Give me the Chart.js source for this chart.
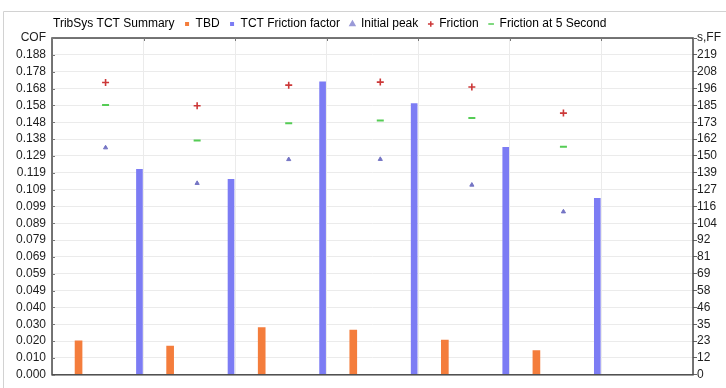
<!DOCTYPE html>
<html>
<head>
<meta charset="utf-8">
<script src="https://cdn.jsdelivr.net/npm/chart.js@4"></script>
<style>
  html, body { margin: 0; padding: 0; background: #fff; }
</style>
</head>
<body>
<canvas id="chart" width="726" height="388"></canvas>
<script>
// six test runs, one column each (a 7th column is left empty)
const runs = ['1', '2', '3', '4', '5', '6'];
const tbd = [0.0200, 0.0168, 0.0277, 0.0262, 0.0204, 0.0142];
const frictionFactor = [141, 134, 201, 186, 156, 121];
const initialPeak = [0.1334, 0.1125, 0.1265, 0.1266, 0.1115, 0.0958];
const friction = [0.1717, 0.1580, 0.1701, 0.1719, 0.1690, 0.1537];
const friction5s = [0.1584, 0.1376, 0.1477, 0.1493, 0.1508, 0.1340];

const cofTicks = ['0.000', '0.010', '0.020', '0.030', '0.040', '0.049', '0.059', '0.069', '0.079', '0.089',
  '0.099', '0.109', '0.119', '0.129', '0.138', '0.148', '0.158', '0.168', '0.178', '0.188', 'COF'];
const ffTicks = ['0', '12', '23', '35', '46', '58', '69', '81', '92', '104',
  '116', '127', '139', '150', '162', '173', '185', '196', '208', '219', 's,FF'];
const cofMax = 0.1978;
const ffMax = 231;
const columns = 7;

// where each series sits inside its column
const posTBD = 0.29;
const posMarks = 0.585;
const posFF = 0.955;

const at = (arr, pos) => arr.map((v, i) => ({ x: i + pos, y: v }));

Chart.defaults.font.family = '"Liberation Sans", Arial, sans-serif';
Chart.defaults.font.size = 12;
Chart.defaults.color = '#1e1e1e';

const framePlugin = {
  id: 'frame',
  afterLayout(chart) {
    // legend line starts right above the plot, not at the canvas edge
    chart.legend.left += 32;
    chart.legend.top += 2;
  },
  beforeDraw(chart) {
    const c = chart.ctx;
    c.save();
    c.strokeStyle = '#d2d2d2';
    c.lineWidth = 1;
    c.beginPath();
    c.moveTo(3.5, chart.height);
    c.lineTo(3.5, 11.5);
    c.lineTo(chart.width, 11.5);
    c.stroke();
    c.restore();
  },
  afterDraw(chart) {
    const { left, top, right, bottom } = chart.chartArea;
    const c = chart.ctx;
    c.save();
    c.strokeStyle = '#4a4a4a';
    c.lineWidth = 1.5;
    c.strokeRect(left, top, right - left, bottom - top);
    // small inner ticks on the COF axis and along the top edge
    c.lineWidth = 1;
    c.strokeStyle = '#777';
    c.beginPath();
    const y = chart.scales.y;
    y.ticks.forEach((t, i) => {
      const py = Math.round(y.getPixelForTick(i)) + 0.5;
      c.moveTo(left, py);
      c.lineTo(left + 3, py);
    });
    const x = chart.scales.x;
    x.ticks.forEach((t, i) => {
      const px = Math.round(x.getPixelForTick(i)) + 0.5;
      c.moveTo(px, top);
      c.lineTo(px, top + 3);
    });
    c.stroke();
    c.restore();
  }
};

const ctx = document.getElementById('chart').getContext('2d');
new Chart(ctx, {
  type: 'bar',
  data: {
    datasets: [
      {
        type: 'bar', label: 'TBD', data: at(tbd, posTBD), yAxisID: 'y',
        backgroundColor: '#f47d3c', barThickness: 7, grouped: false, order: 5,
        legendColor: '#f47d3c', legendStyle: 'rect'
      },
      {
        type: 'bar', label: 'TCT Friction factor', data: at(frictionFactor, posFF), yAxisID: 'y1',
        backgroundColor: '#7c7cf4', barThickness: 6, grouped: false, order: 4,
        legendColor: '#7c7cf4', legendStyle: 'rect'
      },
      {
        type: 'line', label: 'Initial peak', data: at(initialPeak, posMarks), yAxisID: 'y',
        showLine: false, pointStyle: 'triangle', pointRadius: 2.4, pointBorderWidth: 1,
        pointBackgroundColor: '#7474c4', pointBorderColor: '#7474c4', order: 3,
        legendColor: '#9a9ad8', legendStyle: 'triangle'
      },
      {
        type: 'line', label: 'Friction', data: at(friction, posMarks), yAxisID: 'y',
        showLine: false, pointStyle: 'cross', pointRadius: 3.5, pointBorderWidth: 1.6,
        pointBackgroundColor: '#cc3838', pointBorderColor: '#cc3838', order: 2,
        legendColor: '#cc3838', legendStyle: 'cross'
      },
      {
        type: 'line', label: 'Friction at 5 Second', data: at(friction5s, posMarks), yAxisID: 'y',
        showLine: false, pointStyle: 'line', pointRadius: 3.5, pointBorderWidth: 2,
        pointBackgroundColor: '#55cc55', pointBorderColor: '#55cc55', order: 1,
        legendColor: '#55cc55', legendStyle: 'line'
      }
    ]
  },
  options: {
    responsive: false,
    animation: false,
    layout: { padding: { left: 0, top: 6, bottom: 9, right: 0 } },
    plugins: {
      tooltip: { enabled: false },
      legend: {
        position: 'top',
        align: 'start',
        labels: {
          usePointStyle: true,
          boxWidth: 5,
          boxHeight: 4,
          padding: 10,
          color: '#1e1e1e',
          generateLabels: chart => [
            { text: 'TribSys TCT Summary', fillStyle: 'rgba(0,0,0,0)', strokeStyle: 'rgba(0,0,0,0)',
              lineWidth: 0, pointStyle: 'rect', hidden: false }
          ].concat(chart.data.datasets.map((ds, i) => ({
            text: ds.label,
            fillStyle: ds.legendColor,
            strokeStyle: ds.legendColor,
            lineWidth: ds.type === 'bar' ? 0 : 1.5,
            pointStyle: ds.legendStyle,
            hidden: false,
            datasetIndex: i
          })))
        }
      }
    },
    scales: {
      x: {
        type: 'linear', min: 0, max: columns, offset: false,
        ticks: { display: false, stepSize: 1 },
        grid: { color: '#ebebeb', drawTicks: false, offset: false },
        border: { display: false },
        afterFit: s => { s.height = 0; }
      },
      y: {
        position: 'left', min: 0, max: cofMax,
        ticks: { count: cofTicks.length, autoSkip: false, padding: 6, callback: (v, i) => cofTicks[i] },
        grid: { color: '#ebebeb', drawTicks: false },
        border: { display: false },
        afterFit: s => { s.width = 52; }
      },
      y1: {
        position: 'right', min: 0, max: ffMax,
        ticks: { count: ffTicks.length, autoSkip: false, padding: 0, callback: (v, i) => ffTicks[i] },
        grid: { drawOnChartArea: false, drawTicks: true, tickLength: 4, color: '#666' },
        border: { display: false },
        afterFit: s => { s.width = 33; }
      }
    }
  },
  plugins: [framePlugin]
});
</script>
</body>
</html>
